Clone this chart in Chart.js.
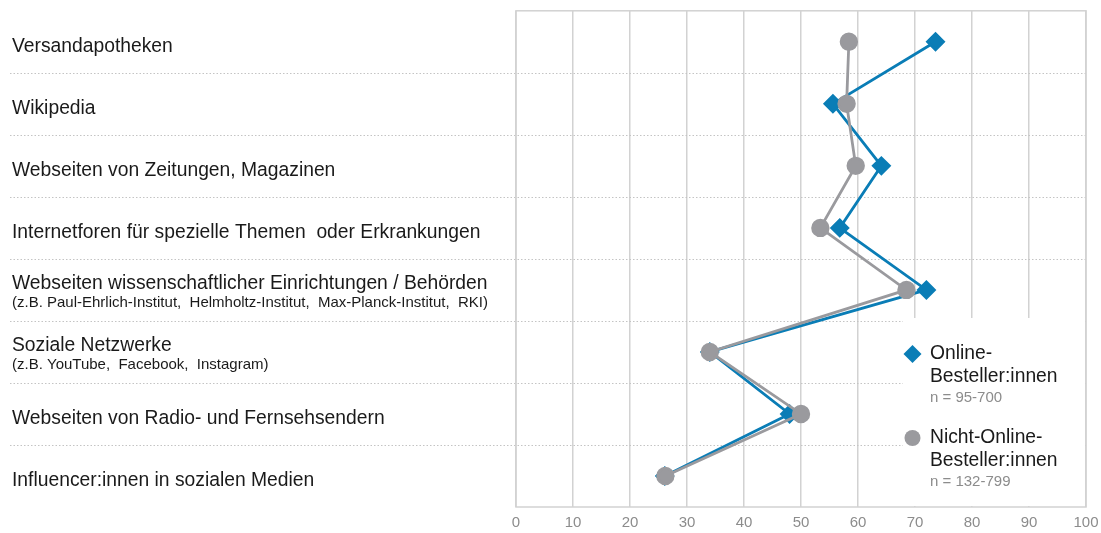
<!DOCTYPE html>
<html>
<head>
<meta charset="utf-8">
<script src="https://cdn.jsdelivr.net/npm/chart.js@4.4.1/dist/chart.umd.min.js"></script>
<style>
  html, body { margin: 0; padding: 0; background: #ffffff; }
  #wrap { width: 1101px; height: 533px; }
</style>
</head>
<body>
<div id="wrap"><canvas id="chart" width="1101" height="533"></canvas></div>
<script>
// Information sources (main label + optional detail line)
const categories = [
  'Versandapotheken',
  'Wikipedia',
  'Webseiten von Zeitungen, Magazinen',
  'Internetforen für spezielle Themen  oder Erkrankungen',
  'Webseiten wissenschaftlicher Einrichtungen / Behörden',
  'Soziale Netzwerke',
  'Webseiten von Radio- und Fernsehsendern',
  'Influencer:innen in sozialen Medien'
];
const categoryNotes = [
  '', '', '', '',
  '(z.B. Paul-Ehrlich-Institut,  Helmholtz-Institut,  Max-Planck-Institut,  RKI)',
  '(z.B. YouTube,  Facebook,  Instagram)',
  '', ''
];

// Share in percent per group
const onlineBuyers    = [73.6, 55.6, 64.1, 56.8, 72.0, 34.0, 48.0, 26.1];
const nonOnlineBuyers = [58.4, 58.0, 59.6, 53.4, 68.5, 34.0, 50.0, 26.2];

const seriesNames = ['Online-\nBesteller:innen', 'Nicht-Online-\nBesteller:innen'];
const sampleSizes = ['n = 95-700', 'n = 132-799'];

const xTicks = [0, 10, 20, 30, 40, 50, 60, 70, 80, 90, 100];

const BLUE = '#0a7db6';
const GREY = '#9a9a9e';
const FONT = '"Liberation Sans", Arial, sans-serif';

// Draws the dotted row separators, the plot frame and the legend panel
const decorations = {
  id: 'decorations',
  beforeDatasetsDraw(chart) {
    const { ctx, chartArea: a, scales: { y } } = chart;
    const band = y.getPixelForValue(1) - y.getPixelForValue(0);
    ctx.save();
    // row separators reaching into the label area
    ctx.strokeStyle = '#c4c4c4';
    ctx.lineWidth = 1;
    ctx.setLineDash([1.5, 2]);
    for (let i = 0; i < categories.length - 1; i++) {
      const yy = Math.round(y.getPixelForValue(i) + band / 2) + 0.5;
      ctx.beginPath();
      ctx.moveTo(10, yy);
      ctx.lineTo(a.right, yy);
      ctx.stroke();
    }
    ctx.setLineDash([]);
    // frame
    ctx.strokeStyle = '#d2d2d2';
    ctx.lineWidth = 1.5;
    ctx.strokeRect(a.left, a.top, a.right - a.left, a.bottom - a.top);
    // legend panel masks the grid behind it
    ctx.fillStyle = '#ffffff';
    ctx.fillRect(903, 318, a.right - 904, a.bottom - 319);
    ctx.restore();
  },
  afterDraw(chart) {
    const { ctx, scales: { y } } = chart;
    ctx.save();
    ctx.textBaseline = 'middle';
    ctx.textAlign = 'left';
    // category labels
    categories.forEach((label, i) => {
      const cy = y.getPixelForValue(i);
      ctx.fillStyle = '#1a1a1a';
      ctx.font = '19.3px ' + FONT;
      if (categoryNotes[i]) {
        ctx.fillText(label, 12, cy - 6);
        ctx.font = '15px ' + FONT;
        ctx.fillText(categoryNotes[i], 12, cy + 13);
      } else {
        ctx.fillText(label, 12, cy + 5);
      }
    });
    // legend
    const entries = [
      { y: 354, color: BLUE, shape: 'diamond' },
      { y: 438, color: GREY, shape: 'circle' }
    ];
    entries.forEach((e, k) => {
      ctx.fillStyle = e.color;
      ctx.beginPath();
      if (e.shape === 'diamond') {
        const r = 9;
        ctx.moveTo(912.5, e.y - r);
        ctx.lineTo(912.5 + r, e.y);
        ctx.lineTo(912.5, e.y + r);
        ctx.lineTo(912.5 - r, e.y);
        ctx.closePath();
      } else {
        ctx.arc(912.5, e.y, 8, 0, Math.PI * 2);
      }
      ctx.fill();
      const lines = seriesNames[k].split('\n');
      ctx.fillStyle = '#1a1a1a';
      ctx.font = '19.3px ' + FONT;
      ctx.fillText(lines[0], 930, e.y);
      ctx.fillText(lines[1], 930, e.y + 23);
      ctx.fillStyle = '#8c8c8c';
      ctx.font = '15px ' + FONT;
      ctx.fillText(sampleSizes[k], 930, e.y + 44);
    });
    ctx.restore();
  }
};

new Chart(document.getElementById('chart'), {
  type: 'line',
  data: {
    labels: categories,
    datasets: [
      {
        label: 'Online-Besteller:innen',
        data: onlineBuyers,
        borderColor: BLUE,
        backgroundColor: BLUE,
        borderWidth: 2.8,
        pointStyle: 'rectRot',
        pointRadius: 8,
        pointHoverRadius: 8,
        tension: 0,
        order: 2
      },
      {
        label: 'Nicht-Online-Besteller:innen',
        data: nonOnlineBuyers,
        borderColor: GREY,
        backgroundColor: GREY,
        borderWidth: 2.8,
        pointStyle: 'circle',
        pointRadius: 7.8,
        pointHoverRadius: 7.8,
        tension: 0,
        order: 1
      }
    ]
  },
  options: {
    responsive: false,
    animation: false,
    indexAxis: 'y',
    layout: { padding: { left: 516, top: 10, right: 15, bottom: 0 } },
    plugins: {
      legend: { display: false },
      tooltip: { enabled: false }
    },
    scales: {
      x: {
        type: 'linear',
        min: 0,
        max: 100,
        afterBuildTicks(scale) { scale.ticks = xTicks.map(v => ({ value: v })); },
        afterFit(scale) {
          scale.height = 26;
          scale.paddingRight = 0;
          scale.paddingLeft = 0;
        },
        grid: { color: '#d2d2d2', lineWidth: 1.5, drawTicks: false },
        border: { display: false },
        ticks: {
          color: '#8c8c8c',
          font: { family: FONT, size: 15 },
          padding: 7
        }
      },
      y: {
        type: 'category',
        offset: true,
        display: false
      }
    }
  },
  plugins: [decorations]
});
</script>
</body>
</html>
